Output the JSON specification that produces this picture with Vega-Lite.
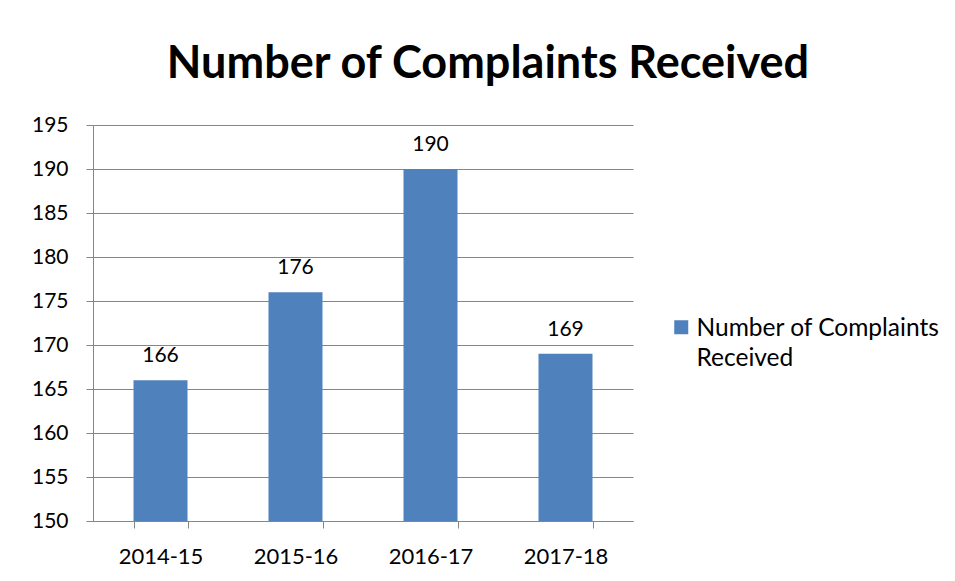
{
  "$schema": "https://vega.github.io/schema/vega-lite/v6.json",
  "width": 540,
  "height": 396,
  "autosize": {"type": "none"},
  "padding": {"left": 93, "top": 125, "right": 322, "bottom": 60},
  "background": "white",
  "title": {
    "text": "Number of Complaints Received",
    "font": "Lato",
    "fontSize": 45,
    "fontWeight": "bold",
    "color": "#000000",
    "anchor": "middle",
    "frame": "group",
    "dx": 125,
    "offset": 27
  },
  "data": {
    "values": [
      {"year": "2014-15", "count": 166, "series": "Number of Complaints Received"},
      {"year": "2015-16", "count": 176, "series": "Number of Complaints Received"},
      {"year": "2016-17", "count": 190, "series": "Number of Complaints Received"},
      {"year": "2017-18", "count": 169, "series": "Number of Complaints Received"}
    ]
  },
  "encoding": {
    "x": {
      "field": "year",
      "type": "nominal",
      "sort": null,
      "scale": {"paddingInner": 0.6, "paddingOuter": 0.3},
      "axis": {
        "title": null,
        "labelAngle": 0,
        "labelFont": "Lato",
        "labelFontSize": 22,
        "labelColor": "#000000",
        "labelPadding": 18,
        "tickBand": "extent",
        "tickSize": 7,
        "tickColor": "#868686",
        "domainColor": "#868686",
        "grid": false
      }
    },
    "y": {
      "field": "count",
      "type": "quantitative",
      "scale": {"domain": [150, 195], "zero": false, "nice": false},
      "axis": {
        "title": null,
        "values": [150, 155, 160, 165, 170, 175, 180, 185, 190, 195],
        "labelFont": "Lato",
        "labelFontSize": 21,
        "labelColor": "#000000",
        "labelPadding": 18,
        "tickSize": 7,
        "tickColor": "#868686",
        "domainColor": "#868686",
        "grid": true,
        "gridColor": "#868686",
        "gridWidth": 1
      }
    }
  },
  "layer": [
    {
      "mark": {"type": "bar", "clip": true},
      "encoding": {
        "color": {
          "field": "series",
          "type": "nominal",
          "scale": {"range": ["#4F81BD"]},
          "legend": {
            "title": null,
            "orient": "none",
            "legendX": 576,
            "legendY": 190,
            "symbolType": "square",
            "symbolSize": 196,
            "symbolStrokeWidth": 0,
            "labelFont": "Lato",
            "labelFontSize": 24.5,
            "labelColor": "#000000",
            "labelLimit": 400,
            "labelExpr": "['Number of Complaints', 'Received']",
            "labelBaseline": "top",
            "labelOffset": 3,
            "encode": {"labels": {"update": {"dy": {"value": -10}, "lineHeight": {"value": 30}}}}
          }
        }
      }
    },
    {
      "mark": {"type": "text", "font": "Lato", "fontSize": 21, "color": "#000000", "baseline": "bottom", "dy": -14},
      "encoding": {"text": {"field": "count", "type": "quantitative"}}
    }
  ],
  "config": {"view": {"stroke": null}}
}
